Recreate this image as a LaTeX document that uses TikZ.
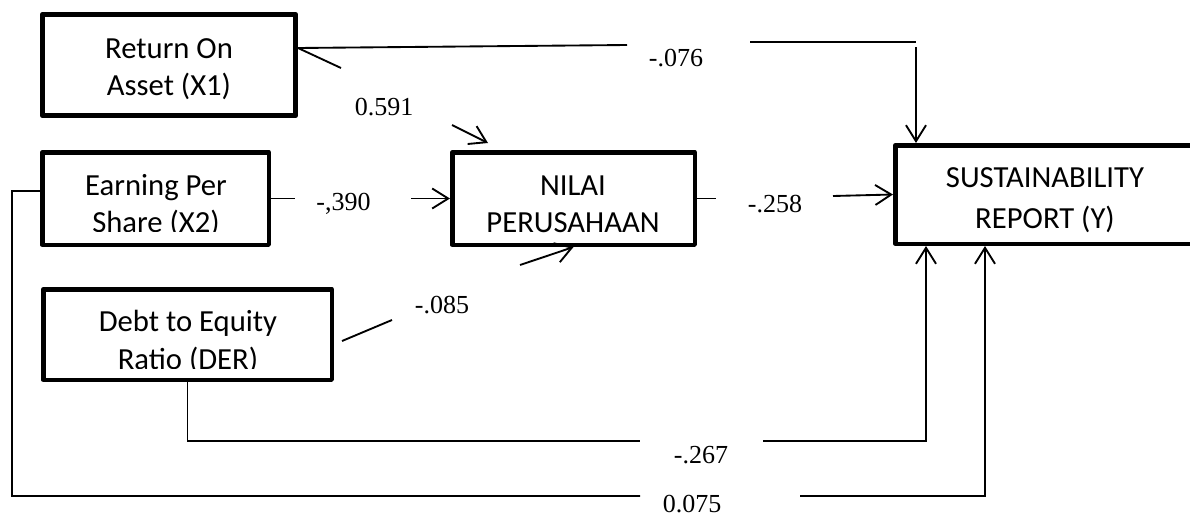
\documentclass[tikz,border=0pt]{standalone}
\usepackage{fontspec}
\setmainfont{Liberation Serif}
\newfontfamily\boxfont{Carlito}
\usetikzlibrary{arrows.meta}
\begin{document}
\begin{tikzpicture}[x=0.75pt,y=-0.75pt,
  box/.style={draw, line width=3.4pt, rectangle, inner sep=0pt, line join=round},
  txt/.style={font=\boxfont\fontsize{23pt}{28pt}\selectfont, anchor=base, inner sep=0pt},
  coef/.style={font=\fontsize{19.5pt}{23pt}\selectfont, anchor=base, inner sep=0pt},
  conn/.style={line width=1.4pt},
  arr/.style={conn, -{Straight Barb[length=12pt,width=15pt]}},
]
\useasboundingbox (0,0) rectangle (1190,518);
\fill[white] (0,0) rectangle (1190,518);

% boxes
\node[box, minimum width=190.1pt, minimum height=76.1pt] (roa) at (169,65) {};
\node[box, minimum width=169.9pt, minimum height=69.4pt] (eps) at (155.5,198.5) {};
\node[box, minimum width=181.9pt, minimum height=69.4pt] (nilai) at (573.5,198.5) {};
\node[box, minimum width=216.4pt, minimum height=67.9pt] (der) at (187.5,334.5) {};
\node[box, minimum width=224.6pt, minimum height=73.9pt] (sr) at (1045,194.5) {};

% box texts
\node[txt] (roa1) at (169,58) {Return On};
\node[txt] (roa2) at (169,95) {Asset (X1)};
\begin{scope}
\clip (40,150) rectangle (271,231);
\node[txt] (eps1) at (156,195) {Earning Per};
\node[txt] (eps2) at (156,232) {Share (X2)};
\end{scope}
\begin{scope}
\clip (450,150) rectangle (697,234);
\node[txt] (nil1) at (573,195) {NILAI};
\node[txt] (nil2) at (573,232) {PERUSAHAAN};
\end{scope}
\begin{scope}
\clip (41,287) rectangle (334,368);
\node[txt] (der1) at (188,331) {Debt to Equity};
\node[txt] (der2) at (188,369) {Ratio (DER)};
\end{scope}
\node[txt] (sr1) at (1045,187) {SUSTAINABILITY};
\node[txt] (sr2) at (1045,228) {REPORT (Y)};

% coefficients
\node[coef] (c076) at (676,66.7) {-.076};
\node[coef] (c591) at (384,115) {0.591};
\node[coef] (c390) at (343.5,210) {-,390};
\node[coef] (c258) at (775,212) {-.258};
\node[coef] (c085) at (442,313) {-.085};
\node[coef] (c267) at (701,463) {-.267};
\node[coef] (c075) at (692,512.5) {0.075};

% coordinates for line breaks
\coordinate (a1) at (627,45);
\coordinate (a2) at (750,42);
\coordinate (a3) at (916,42);
\coordinate (a4) at (916,47);
\coordinate (b1) at (341,68);
\coordinate (b2) at (452,125);
\coordinate (b3) at (488,143);
\coordinate (e1) at (295,198.5);
\coordinate (e2) at (411,198.5);
\coordinate (n1) at (716,198.5);
\coordinate (n2) at (833,196);
\coordinate (d1) at (392,320);
\coordinate (d2) at (520,265);
\coordinate (f1) at (640,441);
\coordinate (f2) at (763,441);
\coordinate (f3) at (926,441);
\coordinate (g0) at (12,191);
\coordinate (g1) at (640,496);
\coordinate (g2) at (800,496);
\coordinate (g3) at (985,496);

% ROA -> SR
\draw[conn] ([yshift=12.75pt]roa.east) -- (a1);
\draw[conn] (a2) -- (a3);
\draw[arr] (a4) -- (a4 |- sr.north);
% ROA -> NILAI
\draw[conn] ([yshift=12.75pt]roa.east) -- (b1);
\draw[arr] (b2) -- (b3);
% EPS -> NILAI
\draw[conn] (eps.east) -- (e1);
\draw[arr] (e2) -- (nilai.west);
% NILAI -> SR
\draw[conn] (nilai.east) -- (n1);
\draw[arr] (n2) -- (sr.west);
% DER -> NILAI
\draw[conn] ([shift={(8,6.5)}]der.east) -- (d1);
\draw[arr] (d2) -- (nilai.south);
% DER -> SR
\draw[conn] (der.south) |- (f1);
\draw[arr] (f2) -- (f3) -- (f3 |- sr.south);
% EPS -> SR
\draw[conn] ([yshift=5.6pt]eps.west) -- (g0) |- (g1);
\draw[arr] (g2) -- (g3) -- (g3 |- sr.south);
\end{tikzpicture}
\end{document}
